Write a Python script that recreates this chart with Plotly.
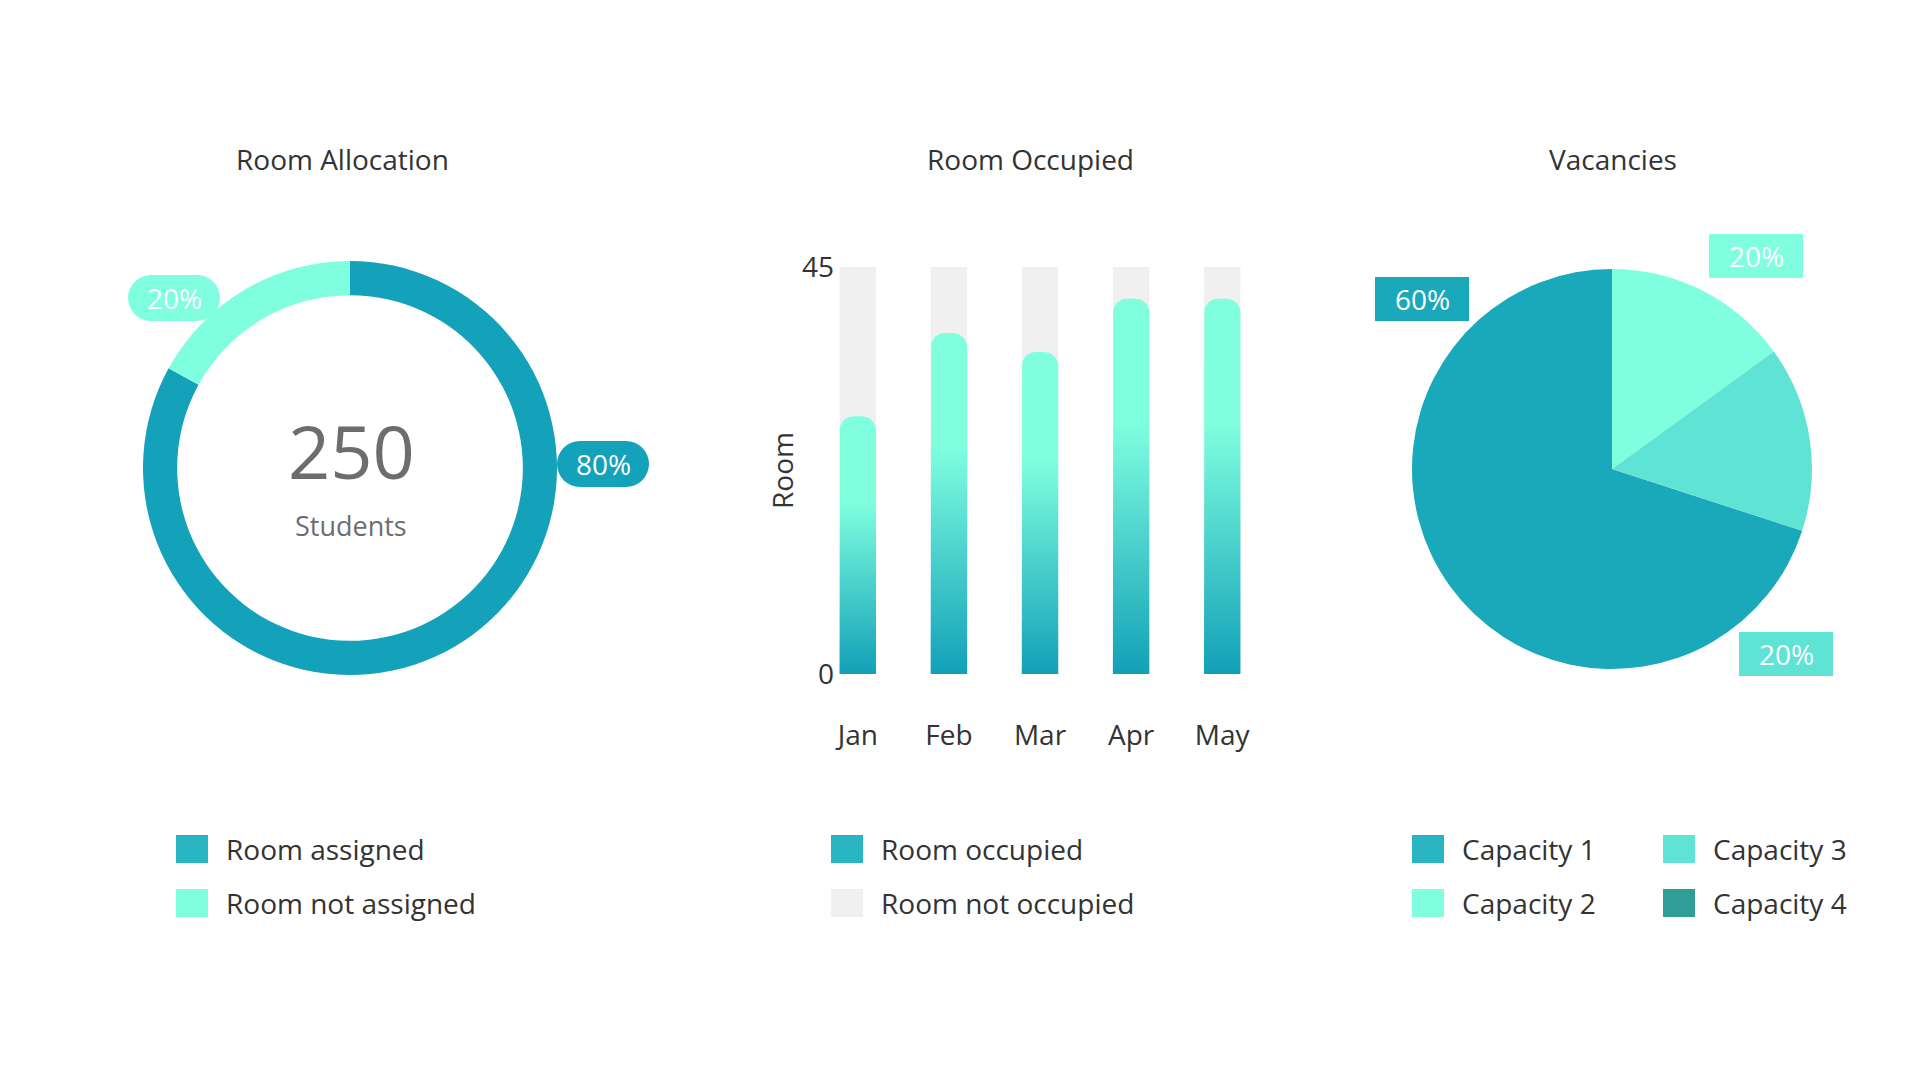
import numpy as np
import plotly.graph_objects as go

W, H = 1920, 1080
FONT = "Open Sans"
TXT = "#333333"

# ---------------- data ----------------
alloc_labels = ["Room assigned", "Room not assigned"]
alloc_values = [83, 17]
alloc_text = ["80%", "20%"]
alloc_colors = ["#14a2ba", "#7fffdf"]
alloc_legend_colors = ["#2ab5c3", "#7fffdf"]
students_total = 250

months = ["Jan", "Feb", "Mar", "Apr", "May"]
rooms_occupied = [28.5, 37.7, 35.6, 41.5, 41.5]
rooms_total = [45, 45, 45, 45, 45]
occ_labels = ["Room occupied", "Room not occupied"]
occ_legend_colors = ["#2ab5c3", "#f0f0f0"]

cap_labels = ["Capacity 1", "Capacity 2", "Capacity 3", "Capacity 4"]
cap_values = [70, 15, 15, 0]
cap_text = ["60%", "20%", "20%", ""]
cap_colors = ["#1aa8bb", "#7fffdf", "#5ee3d5", "#2f9e96"]
cap_legend_colors = ["#2ab5c3", "#7fffdf", "#5ee3d5", "#2f9e96"]


def px(x):
    return x / W


def py(y):
    return 1 - y / H


fig = go.Figure()

# ---------------- donut ----------------
fig.add_trace(go.Pie(
    labels=alloc_labels, values=alloc_values, hole=0.835, sort=False,
    direction="clockwise", rotation=0, textinfo="none",
    marker=dict(colors=alloc_colors, line=dict(width=0)),
    domain=dict(x=[px(143), px(557)], y=[py(675), py(261)]),
    showlegend=False, hoverinfo="label+percent",
))

# ---------------- pie ----------------
fig.add_trace(go.Pie(
    labels=cap_labels, values=cap_values, sort=False,
    direction="clockwise", rotation=108, textinfo="none",
    marker=dict(colors=cap_colors, line=dict(width=0)),
    domain=dict(x=[px(1412), px(1812)], y=[py(669), py(269)]),
    showlegend=False, hoverinfo="label+percent",
))

# ---------------- bars ----------------
xidx = list(range(len(months)))
XR = [-0.25, len(months) - 0.75]
XD = [835, 1245]
YR = [0, 45]
YD = [267, 674]
bar_w = 0.4
fig.add_trace(go.Bar(
    x=xidx, y=rooms_total, width=bar_w, marker=dict(color="#f0f0f0", line=dict(width=0)),
    xaxis="x", yaxis="y", showlegend=False, hoverinfo="skip",
))

px_per_x = (XD[1] - XD[0]) / (XR[1] - XR[0])
px_per_y = (YD[1] - YD[0]) / (YR[1] - YR[0])
rad = 14
rx = rad / px_per_x
ry = rad / px_per_y
for i, v in zip(xidx, rooms_occupied):
    x0, x1 = i - bar_w / 2, i + bar_w / 2
    t1 = np.linspace(np.pi, np.pi / 2, 14)
    t2 = np.linspace(np.pi / 2, 0, 14)
    xs = [x0] + list(x0 + rx + rx * np.cos(t1)) + list(x1 - rx + rx * np.cos(t2)) + [x1, x0]
    ys = [0] + list(v - ry + ry * np.sin(t1)) + list(v - ry + ry * np.sin(t2)) + [0, 0]
    fig.add_trace(go.Scatter(
        x=xs, y=ys, mode="lines", fill="toself", line=dict(width=0, color="rgba(0,0,0,0)"),
        fillgradient=dict(type="vertical", start=0, stop=v,
                          colorscale=[[0, "#12a0b8"], [0.67, "#80ffdf"], [1, "#80ffdf"]]),
        xaxis="x", yaxis="y", showlegend=False, name=months[i], hoverinfo="skip",
    ))

fig.update_layout(
    width=W, height=H, margin=dict(l=0, r=0, t=0, b=0, pad=0, autoexpand=False),
    autosize=False,
    paper_bgcolor="white", plot_bgcolor="white",
    font=dict(family=FONT, color=TXT, size=28),
    showlegend=False,
    xaxis=dict(domain=[px(XD[0]), px(XD[1])], range=XR, tickvals=xidx, ticktext=months,
               showgrid=False, zeroline=False, showline=False, ticks="", automargin=False,
               ticklabelstandoff=42, tickfont=dict(size=28, color=TXT), fixedrange=True),
    yaxis=dict(domain=[py(YD[1]), py(YD[0])], range=YR, tickvals=[0, 45],
               showgrid=False, zeroline=False, showline=False, ticks="", automargin=False,
               ticklabelstandoff=0, tickfont=dict(size=28, color=TXT),
               title=dict(text="Room", standoff=0, font=dict(size=28, color=TXT)),
               fixedrange=True),
)

ann = []
shapes = []


def text_at(text, x, y, size, color, xanchor="center"):
    ann.append(dict(text=text, x=px(x), y=py(y), xref="paper", yref="paper",
                    xanchor=xanchor, yanchor="middle", showarrow=False,
                    font=dict(size=size, color=color)))


# titles
for text, cx in [("Room Allocation", 342), ("Room Occupied", 1030), ("Vacancies", 1613)]:
    text_at(text, cx, 159, 28, TXT)

# donut centre
text_at(str(students_total), 351, 451, 74, "#6d6d6d")
text_at("Students", 351, 525, 27, "#6d6d6d")


# pill labels for donut
def pill(cx, cy, w, h, color, text):
    r = h / 2
    shapes.append(dict(type="rect", xref="paper", yref="paper",
                       x0=px(cx - w / 2 + r), x1=px(cx + w / 2 - r), y0=py(cy + r), y1=py(cy - r),
                       fillcolor=color, line=dict(width=0)))
    for ccx in (cx - w / 2 + r, cx + w / 2 - r):
        shapes.append(dict(type="circle", xref="paper", yref="paper",
                           x0=px(ccx - r), x1=px(ccx + r), y0=py(cy + r), y1=py(cy - r),
                           fillcolor=color, line=dict(width=0)))
    text_at(text, cx, cy, 28, "white")


pill(603, 464, 92, 46, alloc_colors[0], alloc_text[0])
pill(174, 298, 92, 46, alloc_colors[1], alloc_text[1])


# box labels for pie
def box(cx, cy, w, h, color, text):
    shapes.append(dict(type="rect", xref="paper", yref="paper",
                       x0=px(cx - w / 2), x1=px(cx + w / 2), y0=py(cy + h / 2), y1=py(cy - h / 2),
                       fillcolor=color, line=dict(width=0)))
    text_at(text, cx, cy, 28, "white")


box(1422, 299, 94, 44, cap_colors[0], cap_text[0])
box(1756, 256, 94, 44, cap_colors[1], cap_text[1])
box(1786, 654, 94, 44, cap_colors[2], cap_text[2])


# legends
def legend_item(x, yc, color, label):
    shapes.append(dict(type="rect", xref="paper", yref="paper",
                       x0=px(x), x1=px(x + 32), y0=py(yc + 14), y1=py(yc - 14),
                       fillcolor=color, line=dict(width=0)))
    text_at(label, x + 48, yc, 28, TXT, xanchor="left")


rows = [849, 903]
for k, (lab, col) in enumerate(zip(alloc_labels, alloc_legend_colors)):
    legend_item(176, rows[k], col, lab)
for k, (lab, col) in enumerate(zip(occ_labels, occ_legend_colors)):
    legend_item(831, rows[k], col, lab)
cap_pos = [(1412, rows[0]), (1412, rows[1]), (1663, rows[0]), (1663, rows[1])]
for (x, y), lab, col in zip(cap_pos, cap_labels, cap_legend_colors):
    legend_item(x, y, col, lab)

fig.update_layout(annotations=ann, shapes=shapes)
fig.write_html("out.html")
